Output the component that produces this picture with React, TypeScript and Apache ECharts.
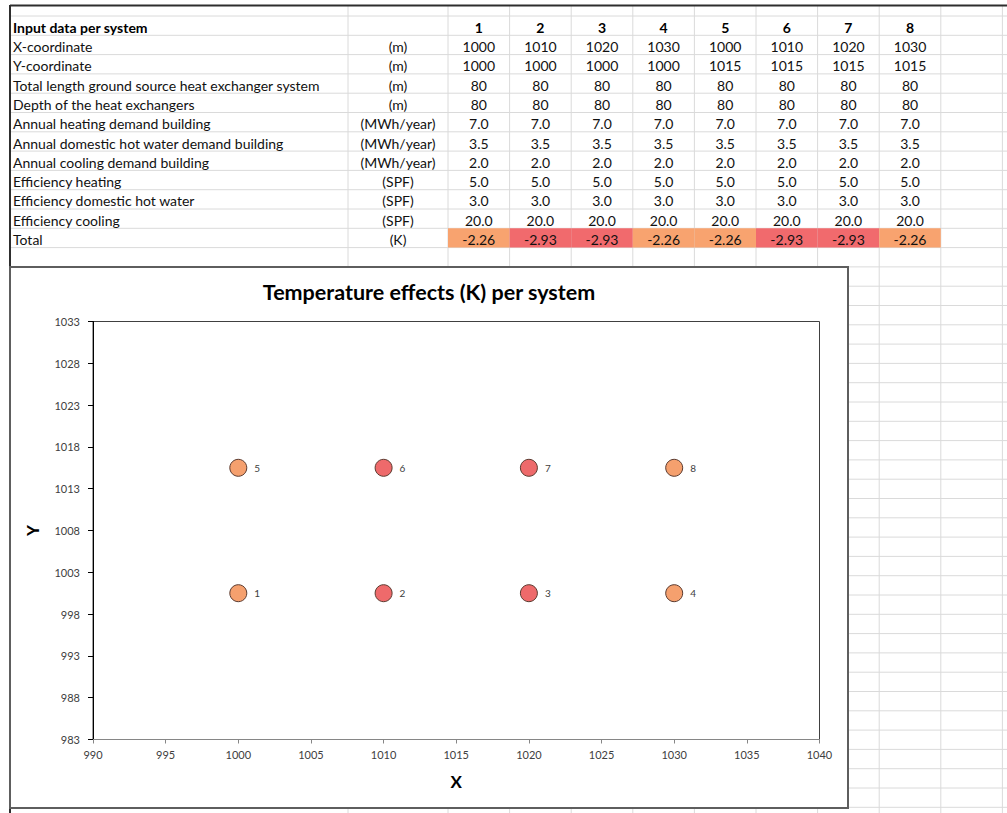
import React, { useEffect, useRef } from 'react';
import * as echarts from 'echarts';

// ---------- data ----------
const systems = [1, 2, 3, 4, 5, 6, 7, 8];
const xCoord = [1000, 1010, 1020, 1030, 1000, 1010, 1020, 1030];
const yCoord = [1000, 1000, 1000, 1000, 1015, 1015, 1015, 1015];
const totalLength = [80, 80, 80, 80, 80, 80, 80, 80];
const depth = [80, 80, 80, 80, 80, 80, 80, 80];
const heatingDemand = [7.0, 7.0, 7.0, 7.0, 7.0, 7.0, 7.0, 7.0];
const dhwDemand = [3.5, 3.5, 3.5, 3.5, 3.5, 3.5, 3.5, 3.5];
const coolingDemand = [2.0, 2.0, 2.0, 2.0, 2.0, 2.0, 2.0, 2.0];
const effHeating = [5.0, 5.0, 5.0, 5.0, 5.0, 5.0, 5.0, 5.0];
const effDhw = [3.0, 3.0, 3.0, 3.0, 3.0, 3.0, 3.0, 3.0];
const effCooling = [20.0, 20.0, 20.0, 20.0, 20.0, 20.0, 20.0, 20.0];
const totalEffect = [-2.26, -2.93, -2.93, -2.26, -2.26, -2.93, -2.93, -2.26];

const xTickValues = [990, 995, 1000, 1005, 1010, 1015, 1020, 1025, 1030, 1035, 1040];
const yTickValues = [982.5, 987.5, 992.5, 997.5, 1002.5, 1007.5, 1012.5, 1017.5, 1022.5, 1027.5, 1032.5];
const yTickLabels = ['983', '988', '993', '998', '1003', '1008', '1013', '1018', '1023', '1028', '1033'];

const headerLabel = 'Input data per system';
const chartTitle = 'Temperature effects (K) per system';

// ---------- styles / layout ----------
const FONT = 'Lato';
const ORANGE_CELL = '#F8A36F';
const RED_CELL = '#F16A6D';
const ORANGE_PT = '#F5A06E';
const RED_PT = '#EE6A6B';
const GRIDLINE = '#dadada';

const ROW_H = 19.3;
const ROW0 = 16;
const COL_LABEL_X = 13;
const COL_UNIT_L = 348;
const COL_DATA_L = 448;
const COL_W = 61.6;
const TFONT = 14;

const pickCell = (v: number) => (v > -2.6 ? ORANGE_CELL : RED_CELL);
const pickPoint = (v: number) => (v > -2.6 ? ORANGE_PT : RED_PT);

export default function App() {
  const ref = useRef<HTMLDivElement>(null);

  useEffect(() => {
    if (!ref.current) return;
    const chart = echarts.init(ref.current, null, { renderer: 'svg' });

    const rows = [
      { label: 'X-coordinate', unit: '(m)', values: xCoord, dec: 0 },
      { label: 'Y-coordinate', unit: '(m)', values: yCoord, dec: 0 },
      { label: 'Total length ground source heat exchanger system', unit: '(m)', values: totalLength, dec: 0 },
      { label: 'Depth of the heat exchangers', unit: '(m)', values: depth, dec: 0 },
      { label: 'Annual heating demand building', unit: '(MWh/year)', values: heatingDemand, dec: 1 },
      { label: 'Annual domestic hot water demand building', unit: '(MWh/year)', values: dhwDemand, dec: 1 },
      { label: 'Annual cooling demand building', unit: '(MWh/year)', values: coolingDemand, dec: 1 },
      { label: 'Efficiency heating', unit: '(SPF)', values: effHeating, dec: 1 },
      { label: 'Efficiency domestic hot water', unit: '(SPF)', values: effDhw, dec: 1 },
      { label: 'Efficiency cooling', unit: '(SPF)', values: effCooling, dec: 1 },
      { label: 'Total', unit: '(K)', values: totalEffect, dec: 2 },
    ];

    const W = 1007;
    const H = 813;
    const graphics: any[] = [];

    // spreadsheet horizontal gridlines
    for (let y = ROW0; y < H; y += ROW_H) {
      graphics.push({
        type: 'line', z: -30, silent: true,
        shape: { x1: 10, y1: y, x2: W, y2: y },
        style: { stroke: GRIDLINE, lineWidth: 1 },
      });
    }
    // vertical gridlines
    const vx = [COL_UNIT_L];
    for (let i = 0; i <= 9; i++) vx.push(COL_DATA_L + i * COL_W);
    vx.forEach((x) => {
      graphics.push({
        type: 'line', z: -30, silent: true,
        shape: { x1: x, y1: 6, x2: x, y2: H },
        style: { stroke: GRIDLINE, lineWidth: 1 },
      });
    });

    // header row
    const textY = (r: number) => ROW0 + r * ROW_H + 11.2;
    graphics.push({
      type: 'text', z: -10, silent: true, x: COL_LABEL_X, y: textY(0),
      style: { text: headerLabel, font: `bold ${TFONT}px ${FONT}`, fill: '#000', textAlign: 'left', textVerticalAlign: 'middle' },
    });
    systems.forEach((s, i) => {
      graphics.push({
        type: 'text', z: -10, silent: true, x: COL_DATA_L + i * COL_W + COL_W / 2, y: textY(0),
        style: { text: String(s), font: `bold ${TFONT}px ${FONT}`, fill: '#000', textAlign: 'center', textVerticalAlign: 'middle' },
      });
    });

    rows.forEach((row, ri) => {
      const r = ri + 1;
      const isTotal = row.label === 'Total';
      graphics.push({
        type: 'text', z: -10, silent: true, x: COL_LABEL_X, y: textY(r),
        style: { text: row.label, font: `${TFONT}px ${FONT}`, fill: '#111', textAlign: 'left', textVerticalAlign: 'middle' },
      });
      graphics.push({
        type: 'text', z: -10, silent: true, x: (COL_UNIT_L + COL_DATA_L) / 2, y: textY(r),
        style: { text: row.unit, font: `${TFONT}px ${FONT}`, fill: '#111', textAlign: 'center', textVerticalAlign: 'middle' },
      });
      row.values.forEach((v, i) => {
        const cx = COL_DATA_L + i * COL_W;
        if (isTotal) {
          graphics.push({
            type: 'rect', z: -20, silent: true,
            shape: { x: cx, y: ROW0 + r * ROW_H, width: COL_W, height: ROW_H },
            style: { fill: pickCell(v) },
          });
        }
        graphics.push({
          type: 'text', z: -10, silent: true, x: cx + COL_W / 2, y: textY(r),
          style: { text: v.toFixed(row.dec), font: `${TFONT}px ${FONT}`, fill: '#111', textAlign: 'center', textVerticalAlign: 'middle' },
        });
      });
    });

    // pane borders
    graphics.push({
      type: 'line', z: -8, silent: true,
      shape: { x1: 10, y1: 5.5, x2: W, y2: 5.5 },
      style: { stroke: '#2e2e2e', lineWidth: 2 },
    });
    graphics.push({
      type: 'line', z: -8, silent: true,
      shape: { x1: 10, y1: 5, x2: 10, y2: H },
      style: { stroke: '#2e2e2e', lineWidth: 2 },
    });

    // chart box
    graphics.push({
      type: 'rect', z: -5, silent: true,
      shape: { x: 10, y: 267, width: 838, height: 541 },
      style: { fill: '#ffffff', stroke: '#5e5e5e', lineWidth: 2 },
    });

    const pointData = systems.map((s, i) => ({
      value: [xCoord[i], yCoord[i]],
      name: String(s),
      itemStyle: { color: pickPoint(totalEffect[i]) },
    }));

    chart.setOption({
      animation: false,
      textStyle: { fontFamily: FONT },
      title: {
        text: chartTitle,
        left: 424,
        top: 276,
        textAlign: 'center',
        textStyle: { fontFamily: FONT, fontSize: 21.5, fontWeight: 'bold', color: '#000' },
      },
      graphic: { elements: graphics },
      grid: {
        left: 93, top: 321.5, width: 726.5, height: 418,
        show: true, borderColor: '#404040', borderWidth: 1, backgroundColor: 'transparent',
        containLabel: false,
      },
      xAxis: {
        type: 'value', min: 990, max: 1040, interval: 5,
        axisLine: { show: true, lineStyle: { color: '#868686', width: 1 } },
        axisTick: { show: true, length: 4, lineStyle: { color: '#868686' } },
        axisLabel: {
          customValues: xTickValues,
          formatter: (v: number) => String(v),
          color: '#404040', fontSize: 11, margin: 9, fontFamily: FONT,
        },
        splitLine: { show: false },
        name: 'X', nameLocation: 'middle', nameGap: 33,
        nameTextStyle: { fontFamily: FONT, fontWeight: 'bold', fontSize: 17, color: '#000' },
      },
      yAxis: {
        type: 'value', min: 982.5, max: 1032.5,
        axisLine: { show: true, lineStyle: { color: '#000', width: 1 } },
        axisTick: { show: true, length: 5, customValues: yTickValues, lineStyle: { color: '#000' } },
        axisLabel: {
          customValues: yTickValues,
          formatter: (v: number) => {
            const idx = yTickValues.findIndex((t) => Math.abs(t - v) < 1e-6);
            return idx >= 0 ? yTickLabels[idx] : '';
          },
          color: '#404040', fontSize: 11, margin: 13, fontFamily: FONT,
        },
        splitLine: { show: false },
        name: 'Y', nameLocation: 'middle', nameGap: 52, nameRotate: 90,
        nameTextStyle: { fontFamily: FONT, fontWeight: 'bold', fontSize: 17, color: '#000' },
      },
      series: [
        {
          type: 'scatter',
          symbol: 'circle',
          symbolSize: 17,
          data: pointData,
          itemStyle: { borderColor: '#5b3b30', borderWidth: 1, opacity: 1 },
          label: {
            show: true, position: 'right', distance: 7,
            formatter: (p: any) => p.name,
            color: '#404040', fontSize: 10, fontFamily: FONT,
          },
          emphasis: { disabled: true },
        },
      ],
    });

    return () => chart.dispose();
  }, []);

  return (
    <div
      ref={ref}
      style={{ position: 'fixed', left: 0, top: 0, width: 1007, height: 813, background: '#fff' }}
    />
  );
}
